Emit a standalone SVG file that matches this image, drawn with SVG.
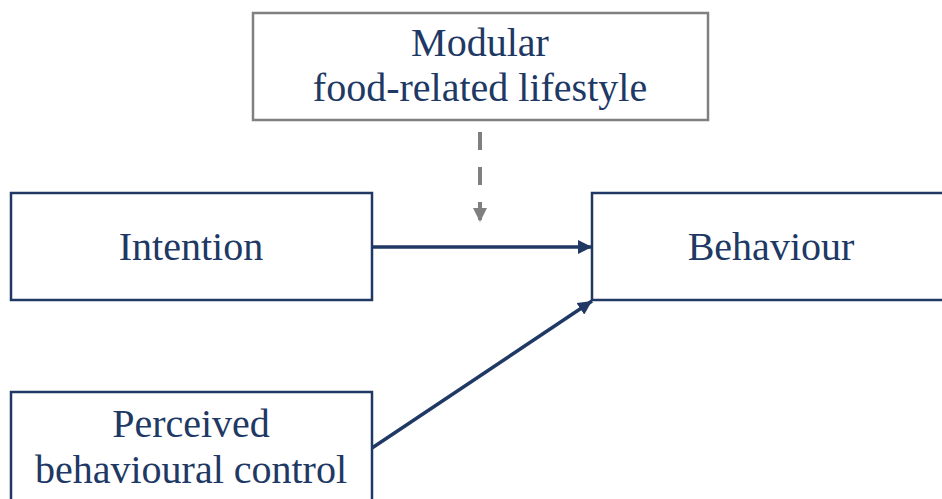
<svg xmlns="http://www.w3.org/2000/svg" width="942" height="499" viewBox="0 0 942 499">
<style>
.box{fill:#fff;stroke:#203864;stroke-width:2.5}
.gbox{fill:#fff;stroke:#808080;stroke-width:2.5}
.t{font-family:"Liberation Serif","Times New Roman",serif;font-size:40px;fill:#203864;text-anchor:middle}
.c{stroke:#203864;stroke-width:3.5;fill:none}
.d{stroke:#7f7f7f;stroke-width:4;fill:none;stroke-dasharray:18 17}
</style>
<defs>
<marker id="ah" viewBox="0 0 10 10" refX="10" refY="5" markerWidth="4" markerHeight="4" markerUnits="strokeWidth" orient="auto">
<path d="M0,0 L10,5 L0,10 Z" fill="#203864"/>
</marker>
<marker id="gh" viewBox="0 0 10 10" refX="10" refY="5" markerWidth="3.5" markerHeight="3.5" markerUnits="strokeWidth" orient="auto">
<path d="M0,0 L10,5 L0,10 Z" fill="#7f7f7f"/>
</marker>
</defs>
<g id="moderator">
<rect class="gbox" x="253" y="13" width="455" height="107"/>
<text class="t" x="480" y="56">Modular</text>
<text class="t" x="480" y="101">food-related lifestyle</text>
</g>
<g id="intention">
<rect class="box" x="11" y="193" width="361" height="107"/>
<text class="t" x="191" y="260">Intention</text>
</g>
<g id="behaviour">
<rect class="box" x="592" y="193" width="360" height="107"/>
<text class="t" x="771" y="260">Behaviour</text>
</g>
<g id="pbc">
<rect class="box" x="11" y="392" width="361" height="120"/>
<text class="t" x="191" y="437">Perceived</text>
<text class="t" x="191" y="483">behavioural control</text>
</g>
<g id="connectors">
<line class="c" x1="372" y1="247" x2="592" y2="247" marker-end="url(#ah)"/>
<line class="c" x1="372" y1="448" x2="592" y2="301" marker-end="url(#ah)"/>
<line class="d" x1="480" y1="132" x2="480" y2="222" marker-end="url(#gh)"/>
</g>
</svg>
